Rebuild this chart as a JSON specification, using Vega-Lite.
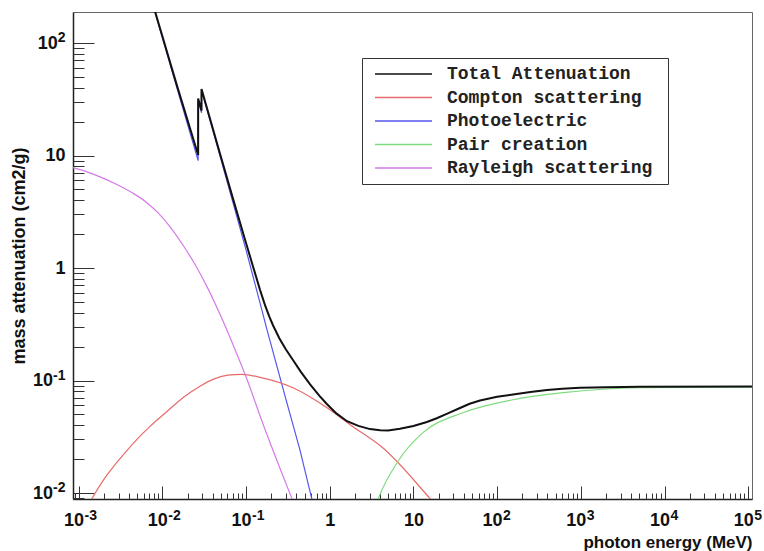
{
  "$schema": "https://vega.github.io/schema/vega-lite/v6.json",
  "width": 679,
  "height": 487,
  "autosize": {"type": "none"},
  "padding": {"left": 73, "top": 12, "right": 12, "bottom": 52},
  "background": "white",
  "config": {
    "view": {"stroke": "#666666", "strokeWidth": 1},
    "axis": {
      "grid": false,
      "domainColor": "#222222",
      "domainWidth": 1.5,
      "tickColor": "#333333",
      "labelFont": "Liberation Sans",
      "labelFontWeight": "bold",
      "labelFontSize": 18,
      "labelColor": "#111111",
      "titleFont": "Liberation Sans",
      "titleFontWeight": "bold",
      "titleFontSize": 17,
      "titleColor": "#111111"
    }
  },
  "data": {
    "values": [
      {"series": "Photoelectric", "E": 0.001, "mu": 41700},
      {"series": "Photoelectric", "E": 0.00818, "mu": 188},
      {"series": "Photoelectric", "E": 0.015, "mu": 39.6},
      {"series": "Photoelectric", "E": 0.0268, "mu": 9.0},
      {"series": "Photoelectric", "E": 0.02681, "mu": 31},
      {"series": "Photoelectric", "E": 0.0294, "mu": 24},
      {"series": "Photoelectric", "E": 0.02941, "mu": 38},
      {"series": "Photoelectric", "E": 0.05, "mu": 9.35},
      {"series": "Photoelectric", "E": 0.07, "mu": 3.8},
      {"series": "Photoelectric", "E": 0.1, "mu": 1.45},
      {"series": "Photoelectric", "E": 0.147, "mu": 0.49},
      {"series": "Photoelectric", "E": 0.178, "mu": 0.283},
      {"series": "Photoelectric", "E": 0.3, "mu": 0.068},
      {"series": "Photoelectric", "E": 0.44, "mu": 0.0243},
      {"series": "Photoelectric", "E": 0.61, "mu": 0.0089},
      {"series": "Photoelectric", "E": 1.0, "mu": 0.002},

      {"series": "Compton scattering", "E": 0.001, "mu": 0.0053},
      {"series": "Compton scattering", "E": 0.001486, "mu": 0.00927},
      {"series": "Compton scattering", "E": 0.001995, "mu": 0.01318},
      {"series": "Compton scattering", "E": 0.002818, "mu": 0.01841},
      {"series": "Compton scattering", "E": 0.004467, "mu": 0.02754},
      {"series": "Compton scattering", "E": 0.007079, "mu": 0.0389},
      {"series": "Compton scattering", "E": 0.01138, "mu": 0.0531},
      {"series": "Compton scattering", "E": 0.01778, "mu": 0.0708},
      {"series": "Compton scattering", "E": 0.02818, "mu": 0.0891},
      {"series": "Compton scattering", "E": 0.04169, "mu": 0.1035},
      {"series": "Compton scattering", "E": 0.06095, "mu": 0.1117},
      {"series": "Compton scattering", "E": 0.08913, "mu": 0.1135},
      {"series": "Compton scattering", "E": 0.1472, "mu": 0.1068},
      {"series": "Compton scattering", "E": 0.3648, "mu": 0.0863},
      {"series": "Compton scattering", "E": 0.929, "mu": 0.0573},
      {"series": "Compton scattering", "E": 1.901, "mu": 0.0388},
      {"series": "Compton scattering", "E": 4.335, "mu": 0.0251},
      {"series": "Compton scattering", "E": 15.85, "mu": 0.00891},
      {"series": "Compton scattering", "E": 31.6, "mu": 0.00495},

      {"series": "Rayleigh scattering", "E": 0.00085, "mu": 7.8},
      {"series": "Rayleigh scattering", "E": 0.001259, "mu": 7.16},
      {"series": "Rayleigh scattering", "E": 0.001803, "mu": 6.46},
      {"series": "Rayleigh scattering", "E": 0.002818, "mu": 5.56},
      {"series": "Rayleigh scattering", "E": 0.004467, "mu": 4.62},
      {"series": "Rayleigh scattering", "E": 0.00631, "mu": 3.89},
      {"series": "Rayleigh scattering", "E": 0.008913, "mu": 3.09},
      {"series": "Rayleigh scattering", "E": 0.01259, "mu": 2.29},
      {"series": "Rayleigh scattering", "E": 0.01778, "mu": 1.585},
      {"series": "Rayleigh scattering", "E": 0.02512, "mu": 1.047},
      {"series": "Rayleigh scattering", "E": 0.03548, "mu": 0.646},
      {"series": "Rayleigh scattering", "E": 0.05012, "mu": 0.372},
      {"series": "Rayleigh scattering", "E": 0.07079, "mu": 0.204},
      {"series": "Rayleigh scattering", "E": 0.1, "mu": 0.108},
      {"series": "Rayleigh scattering", "E": 0.1585, "mu": 0.0417},
      {"series": "Rayleigh scattering", "E": 0.3162, "mu": 0.011},
      {"series": "Rayleigh scattering", "E": 0.5012, "mu": 0.00468},

      {"series": "Pair creation", "E": 3.5, "mu": 0.0075},
      {"series": "Pair creation", "E": 3.8, "mu": 0.0089},
      {"series": "Pair creation", "E": 6.37, "mu": 0.0186},
      {"series": "Pair creation", "E": 13, "mu": 0.0344},
      {"series": "Pair creation", "E": 39, "mu": 0.0517},
      {"series": "Pair creation", "E": 155, "mu": 0.0675},
      {"series": "Pair creation", "E": 612, "mu": 0.078},
      {"series": "Pair creation", "E": 5100, "mu": 0.0863},
      {"series": "Pair creation", "E": 111000, "mu": 0.0875},

      {"series": "Total Attenuation", "E": 0.001, "mu": 41700},
      {"series": "Total Attenuation", "E": 0.00818, "mu": 191},
      {"series": "Total Attenuation", "E": 0.015, "mu": 41.6},
      {"series": "Total Attenuation", "E": 0.0268, "mu": 10.1},
      {"series": "Total Attenuation", "E": 0.02681, "mu": 32.1},
      {"series": "Total Attenuation", "E": 0.0294, "mu": 25.1},
      {"series": "Total Attenuation", "E": 0.02941, "mu": 39.1},
      {"series": "Total Attenuation", "E": 0.05, "mu": 9.82},
      {"series": "Total Attenuation", "E": 0.07, "mu": 4.12},
      {"series": "Total Attenuation", "E": 0.1, "mu": 1.67},
      {"series": "Total Attenuation", "E": 0.12, "mu": 1.06},
      {"series": "Total Attenuation", "E": 0.147, "mu": 0.64},
      {"series": "Total Attenuation", "E": 0.17, "mu": 0.46},
      {"series": "Total Attenuation", "E": 0.19, "mu": 0.37},
      {"series": "Total Attenuation", "E": 0.21, "mu": 0.31},
      {"series": "Total Attenuation", "E": 0.25, "mu": 0.238},
      {"series": "Total Attenuation", "E": 0.3, "mu": 0.189},
      {"series": "Total Attenuation", "E": 0.364, "mu": 0.152},
      {"series": "Total Attenuation", "E": 0.45, "mu": 0.12},
      {"series": "Total Attenuation", "E": 0.58, "mu": 0.093},
      {"series": "Total Attenuation", "E": 0.75, "mu": 0.0735},
      {"series": "Total Attenuation", "E": 0.93, "mu": 0.0615},
      {"series": "Total Attenuation", "E": 1.2, "mu": 0.051},
      {"series": "Total Attenuation", "E": 1.61, "mu": 0.0435},
      {"series": "Total Attenuation", "E": 2.2, "mu": 0.0395},
      {"series": "Total Attenuation", "E": 3.03, "mu": 0.037},
      {"series": "Total Attenuation", "E": 4.0, "mu": 0.0362},
      {"series": "Total Attenuation", "E": 5.0, "mu": 0.036},
      {"series": "Total Attenuation", "E": 6.9, "mu": 0.0372},
      {"series": "Total Attenuation", "E": 10, "mu": 0.0395},
      {"series": "Total Attenuation", "E": 14.5, "mu": 0.0428},
      {"series": "Total Attenuation", "E": 19, "mu": 0.0462},
      {"series": "Total Attenuation", "E": 25, "mu": 0.0505},
      {"series": "Total Attenuation", "E": 36, "mu": 0.057},
      {"series": "Total Attenuation", "E": 47, "mu": 0.0622},
      {"series": "Total Attenuation", "E": 62.5, "mu": 0.0665},
      {"series": "Total Attenuation", "E": 100, "mu": 0.0718},
      {"series": "Total Attenuation", "E": 155, "mu": 0.0752},
      {"series": "Total Attenuation", "E": 250, "mu": 0.079},
      {"series": "Total Attenuation", "E": 395, "mu": 0.0825},
      {"series": "Total Attenuation", "E": 600, "mu": 0.0845},
      {"series": "Total Attenuation", "E": 980, "mu": 0.0862},
      {"series": "Total Attenuation", "E": 2000, "mu": 0.0873},
      {"series": "Total Attenuation", "E": 5100, "mu": 0.088},
      {"series": "Total Attenuation", "E": 111000, "mu": 0.0885}
    ]
  },
  "resolve": {
    "scale": {"x": "shared", "y": "shared", "color": "shared"},
    "axis": {"x": "independent", "y": "independent"}
  },
  "layer": [
    {
      "transform": [{"filter": "datum.series == 'Photoelectric'"}],
      "mark": {"type": "line", "clip": true, "strokeWidth": 1.2, "interpolate": "linear"},
      "encoding": {
        "x": {
          "field": "E", "type": "quantitative",
          "scale": {"type": "log", "domain": [0.000857, 111000], "nice": false},
          "axis": {
            "orient": "bottom",
            "values": [0.001, 0.01, 0.1, 1, 10, 100, 1000, 10000, 100000],
            "labelExpr": "datum.value == 1 ? '1' : '10'",
            "labelAlign": {"condition": {"test": "datum.value == 1 || datum.value == 10", "value": "center"}, "value": "right"},
            "labelOffset": {"condition": {"test": "datum.value == 1 || datum.value == 10", "value": 0}, "value": 5},
            "tickSize": -13,
            "labelPadding": 25,
            "labelFlush": false,
            "labelOverlap": false,
            "title": "photon energy (MeV)",
            "titleX": 679,
            "titleY": 48,
            "titleAlign": "right",
            "titleBaseline": "alphabetic"
          }
        },
        "y": {
          "field": "mu", "type": "quantitative",
          "scale": {"type": "log", "domain": [0.00885, 188.7], "nice": false},
          "axis": {
            "orient": "left",
            "values": [0.01, 0.1, 1, 10, 100],
            "labelExpr": "datum.value == 1 ? '1' : '10'",
            "labelPadding": {"condition": [{"test": "datum.value < 1", "value": 41.5}, {"test": "datum.value > 10", "value": 36.8}], "value": 29},
            "tickSize": -21,
            "labelFlush": false,
            "labelOverlap": false,
            "title": "mass attenuation (cm2/g)",
            "titleFontSize": 18,
            "titleX": -49,
            "titleY": 243.5,
            "titleAngle": -90,
            "titleAlign": "center",
            "titleBaseline": "alphabetic"
          }
        },
        "color": {
          "field": "series", "type": "nominal",
          "scale": {
            "domain": ["Total Attenuation", "Compton scattering", "Photoelectric", "Pair creation", "Rayleigh scattering"],
            "range": ["#111111", "#e86a6a", "#5656ee", "#7edc7e", "#d47ae8"]
          },
          "legend": {
            "orient": "none",
            "legendX": 289,
            "legendY": 46,
            "title": null,
            "symbolType": "M-0.375,0H6.75M35,0",
            "symbolSize": 256,
            "symbolStrokeWidth": 1.5,
            "labelFont": "Liberation Mono",
            "labelFontWeight": "bold",
            "labelFontSize": 18,
            "labelColor": "#222222",
            "labelLimit": 400,
            "labelOffset": 60,
            "rowPadding": 5.5,
            "padding": 7,
            "fillColor": "white",
            "strokeColor": "#333333"
          }
        }
      }
    },
    {
      "transform": [{"filter": "datum.series != 'Photoelectric' && datum.series != 'Total Attenuation'"}],
      "mark": {"type": "line", "clip": true, "strokeWidth": 1.2, "interpolate": "monotone"},
      "encoding": {
        "x": {
          "field": "E", "type": "quantitative",
          "axis": {
            "orient": "bottom",
            "values": [0.0009, 0.002, 0.003, 0.004, 0.005, 0.006, 0.007, 0.008, 0.009,
                       0.02, 0.03, 0.04, 0.05, 0.06, 0.07, 0.08, 0.09,
                       0.2, 0.3, 0.4, 0.5, 0.6, 0.7, 0.8, 0.9,
                       2, 3, 4, 5, 6, 7, 8, 9,
                       20, 30, 40, 50, 60, 70, 80, 90,
                       200, 300, 400, 500, 600, 700, 800, 900,
                       2000, 3000, 4000, 5000, 6000, 7000, 8000, 9000,
                       20000, 30000, 40000, 50000, 60000, 70000, 80000, 90000],
            "labels": false,
            "domain": false,
            "tickSize": -6,
            "title": null
          }
        },
        "y": {
          "field": "mu", "type": "quantitative",
          "axis": {
            "orient": "left",
            "values": [0.009, 0.02, 0.03, 0.04, 0.05, 0.06, 0.07, 0.08, 0.09,
                       0.2, 0.3, 0.4, 0.5, 0.6, 0.7, 0.8, 0.9,
                       2, 3, 4, 5, 6, 7, 8, 9,
                       20, 30, 40, 50, 60, 70, 80, 90],
            "labels": false,
            "domain": false,
            "tickSize": -11,
            "title": null
          }
        },
        "color": {"field": "series", "type": "nominal"}
      }
    },
    {
      "transform": [{"filter": "datum.series == 'Total Attenuation'"}],
      "mark": {"type": "line", "clip": true, "strokeWidth": 2, "interpolate": "linear"},
      "encoding": {
        "x": {
          "field": "E", "type": "quantitative",
          "axis": {
            "orient": "bottom",
            "values": [0.001, 0.01, 0.1, 100, 1000, 10000, 100000],
            "labelExpr": "'' + round(log(datum.value) / LN10)",
            "labelFontSize": 14,
            "labelAlign": "left",
            "labelOffset": 5.5,
            "tickSize": -13,
            "tickColor": "transparent",
            "labelPadding": 22,
            "labelFlush": false,
            "labelOverlap": false,
            "domain": false,
            "title": null
          }
        },
        "y": {
          "field": "mu", "type": "quantitative",
          "axis": {
            "orient": "left",
            "values": [0.01, 0.1, 100],
            "labelExpr": "'' + round(log(datum.value) / LN10)",
            "labelFontSize": 14,
            "labelAlign": "right",
            "labelOffset": -5.5,
            "tickSize": -21,
            "tickColor": "transparent",
            "labelPadding": 29,
            "labelFlush": false,
            "labelOverlap": false,
            "domain": false,
            "title": null
          }
        },
        "color": {"field": "series", "type": "nominal"}
      }
    }
  ]
}
